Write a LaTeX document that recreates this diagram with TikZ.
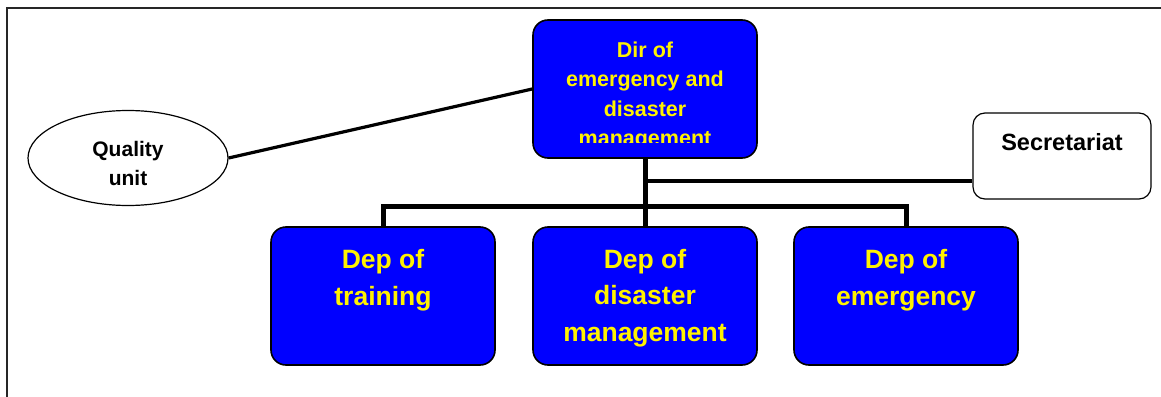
\documentclass[tikz,border=0pt]{standalone}
\usepackage{fontspec}
\setmainfont{Liberation Sans}
\usetikzlibrary{shapes.geometric}
\begin{document}
\begin{tikzpicture}[x=1pt,y=-1pt,
  unitbox/.style={draw=black, line width=1.6pt, rounded corners=15pt, fill=blue,
    minimum width=224pt, minimum height=138pt, inner sep=0pt},
  whitebox/.style={draw=black, line width=1.2pt, rounded corners=12pt, fill=white,
    minimum width=178pt, minimum height=86pt, inner sep=0pt},
  oval/.style={draw=black, line width=1.2pt, ellipse, fill=white,
    minimum width=200pt, minimum height=95pt, inner sep=0pt},
  dirtext/.style={text=yellow, align=center, inner sep=0pt,
    font=\fontsize{21.5}{29.5}\selectfont\bfseries},
  deptext/.style={text=yellow, align=center, inner sep=0pt,
    font=\fontsize{26.5}{36.5}\selectfont\bfseries},
  blacktext/.style={text=black, align=center, inner sep=0pt,
    font=\fontsize{21}{29}\selectfont\bfseries},
  link/.style={draw=black, line width=3.2pt},
  branch/.style={draw=black, line width=5pt}]
\useasboundingbox (0,0) rectangle (1161,396);

% outer frame, running off the right and bottom edges
\draw[line width=2pt, black!85] (7,410) -- (7,8) -- (1175,8);

% junction points of the tree
\coordinate (fork) at (645,206);
\coordinate (sectap) at (645,181);

% boxes
\node[unitbox] (dir) at (645,89) {};
\node[unitbox] (train) at (383,296) {};
\node[unitbox] (disas) at (645,296) {};
\node[unitbox] (emerg) at (906,296) {};
\node[whitebox] (sec) at (1062,156) {};
\node[oval] (qual) at (128,158) {};

% connectors
\draw[link] (qual.east) -- (dir.west);
\draw[link] (sectap) -- (sectap -| sec.west);
\draw[branch] (dir.south) -- (fork);
\draw[branch] (train.north) |- (fork) -| (emerg.north);
\draw[branch] (fork) -- (disas.north);

% texts
\begin{scope}
  \clip (533,20) rectangle (757,142);
  \node[dirtext] (dirlabel) at (645,96) {Dir of\\emergency and\\disaster\\management};
\end{scope}
\node[deptext] (trainlabel) at (383,280) {Dep of\\training};
\node[deptext] (disaslabel) at (645,298) {Dep of\\disaster\\management};
\node[deptext] (emerglabel) at (906,280) {Dep of\\emergency};
\node[blacktext, font=\fontsize{23.5}{29}\selectfont\bfseries] (seclabel) at (1062,142) {Secretariat};
\node[blacktext] (quallabel) at (128,163) {Quality\\unit};
\end{tikzpicture}
\end{document}
